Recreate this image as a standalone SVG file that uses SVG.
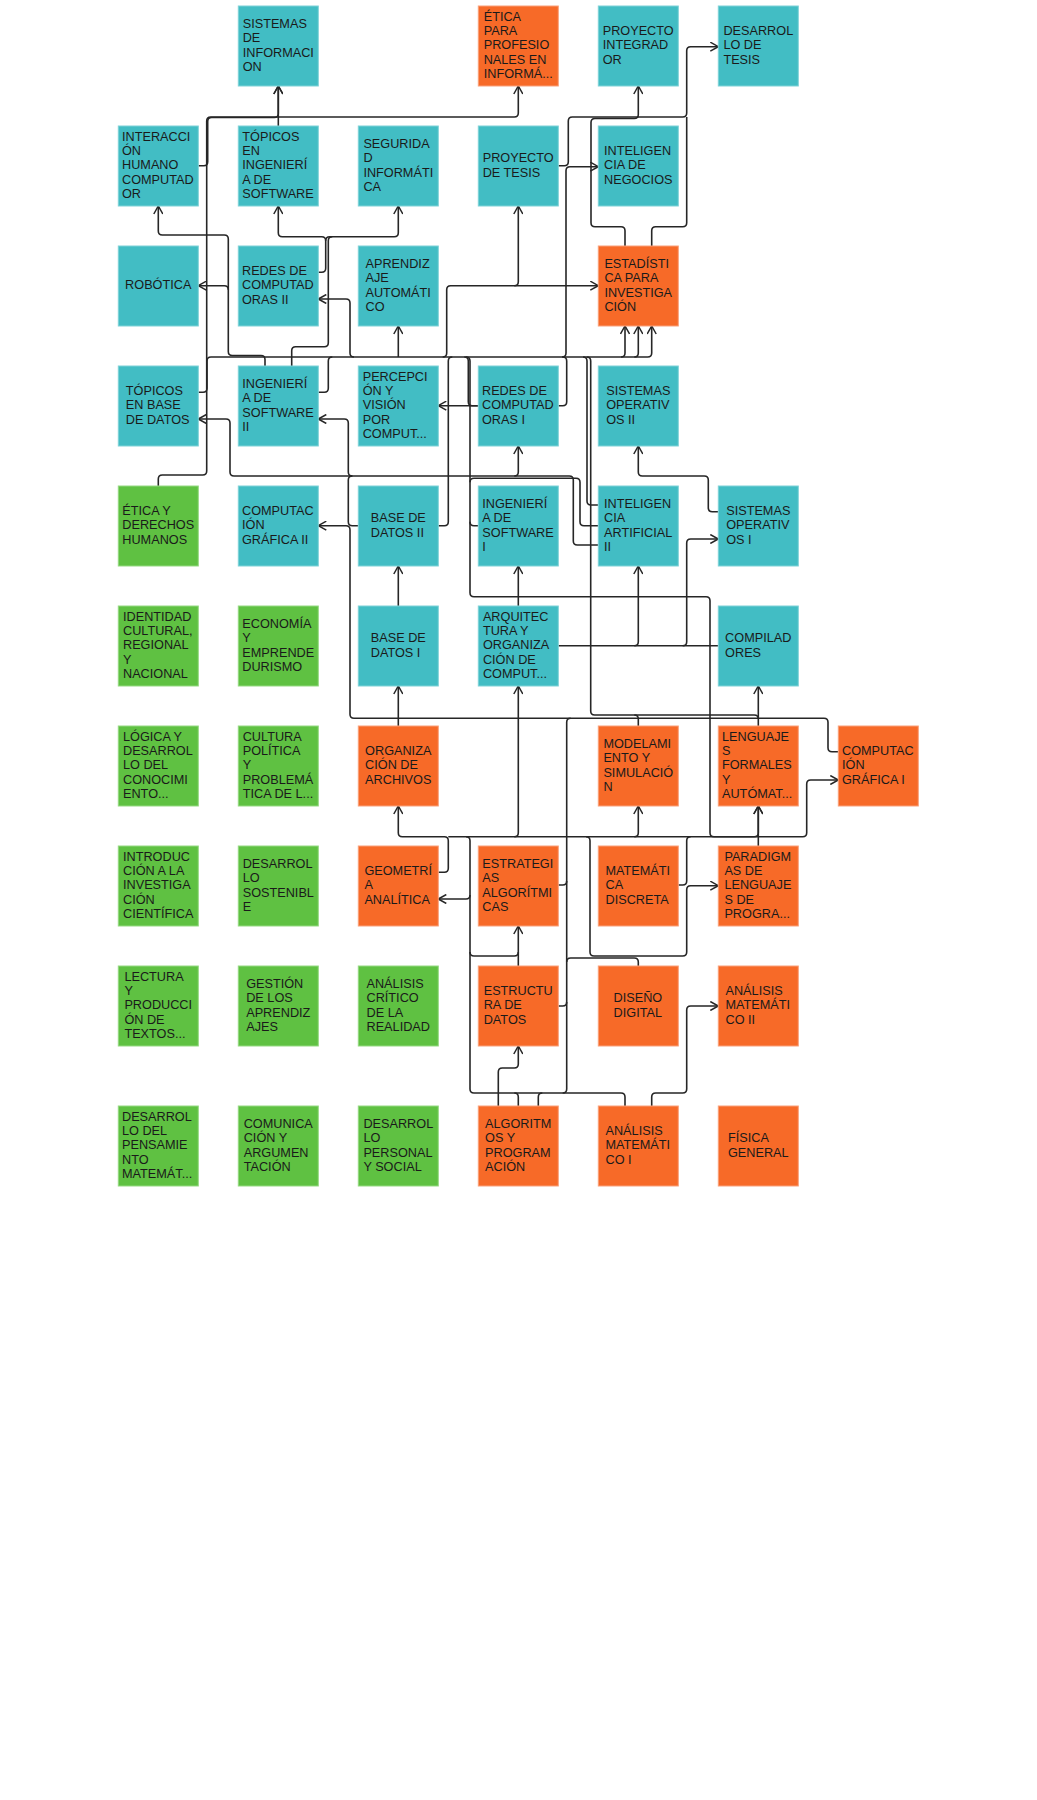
<svg xmlns="http://www.w3.org/2000/svg" width="1037" height="1800" viewBox="0 0 1037 1800">
  <defs>
    <style>
      .teal { fill: #42BDC4; stroke: #7FD2D7; stroke-width: 1; }
      .orange { fill: #F76A28; stroke: #F9A07A; stroke-width: 1; }
      .green { fill: #5FC142; stroke: #95D981; stroke-width: 1; }
      text { font-family: "Liberation Sans", Arial, sans-serif; font-size: 12.7px; fill: #1a1a1a; }
      .edge { fill: none; stroke: #262626; stroke-width: 1.6; stroke-linejoin: round; }
      .arr { marker-end: url(#ah); }
    </style>
    <marker id="ah" viewBox="0 0 10 10" refX="9" refY="5" markerWidth="10" markerHeight="10" markerUnits="userSpaceOnUse" orient="auto">
      <path d="M1,0.5 L9,5 L1,9.5" fill="none" stroke="#262626" stroke-width="1.5"/>
    </marker>
  </defs>
  <rect width="1037" height="1800" fill="#ffffff"/>

  <g id="connectors">
    <!-- upper routes -->
    <path class="edge arr" d="M158.3,486 V479 Q158.3,475 162.3,475 H202.7 Q206.7,475 206.7,471 V121 Q206.7,117 210.7,117 H514.3 Q518.3,117 518.3,113 V86"/>
    <path class="edge arr" d="M198.3,165.7 H203.7 Q207.7,165.7 207.7,161.7 V121.5 Q207.7,117.5 211.7,117.5 H274.3 Q278.3,117.5 278.3,113.5 V86"/>
    <path class="edge arr" d="M278.3,126 V86"/>
    <path class="edge arr" d="M558.3,165.7 H564.3 Q568.3,165.7 568.3,161.7 V121 Q568.3,117 572.3,117 H682.7 Q686.7,117 686.7,113 V50.7 Q686.7,46.7 690.7,46.7 H718.3"/>
    <path class="edge arr" d="M625,246 V230.7 Q625,226.7 621,226.7 H595 Q591,226.7 591,222.7 V122.5 Q591,118.5 595,118.5 H634.3 Q638.3,118.5 638.3,114.5 V86"/>
    <path class="edge" d="M651.7,246 V230.7 Q651.7,226.7 655.7,226.7 H682.7 Q686.7,226.7 686.7,222.7 V117"/>
    <path class="edge arr" d="M562,357 Q566,357 566,353 V170.7 Q566,166.7 570,166.7 H598.3"/>
    <path class="edge arr" d="M442.7,357 Q446.7,357 446.7,353 V289.7 Q446.7,285.7 450.7,285.7 H598.3"/>
    <path class="edge arr" d="M514.3,285.7 Q518.3,285.7 518.3,281.7 V206"/>
    <path class="edge arr" d="M265,366 V359.5 Q265,355.5 261,355.5 H232.3 Q228.3,355.5 228.3,351.5 V239 Q228.3,235 224.3,235 H162.3 Q158.3,235 158.3,231 V206"/>
    <path class="edge arr" d="M228.3,289.7 Q228.3,285.7 224.3,285.7 H198.3"/>
    <path class="edge arr" d="M318.3,272.3 H321.7 Q325.7,272.3 325.7,268.3 V240.7 Q325.7,236.7 321.7,236.7 H282.3 Q278.3,236.7 278.3,232.7 V206"/>
    <path class="edge arr" d="M325.7,240.7 Q325.7,236.7 329.7,236.7 H394.3 Q398.3,236.7 398.3,232.7 V206"/>
    <path class="edge" d="M291.7,366 V350.7 Q291.7,346.7 295.7,346.7 H324.3 Q328.3,346.7 328.3,342.7 V240.7 Q328.3,236.7 332.3,236.7"/>
    <path class="edge arr" d="M354,357 Q350,357 350,353 V303 Q350,299 346,299 H318.3"/>
    <path class="edge arr" d="M398.3,357 V326"/>
    <path class="edge arr" d="M198.3,392.3 H203 Q207,392.3 207,388.3 V361 Q207,357 211,357 H647.7 Q651.7,357 651.7,353 V326"/>
    <path class="edge arr" d="M621,357 Q625,357 625,353 V326"/>
    <path class="edge arr" d="M634.3,357 Q638.3,357 638.3,353 V326"/>
    <path class="edge" d="M318.3,392.3 H324.3 Q328.3,392.3 328.3,388.3 V361 Q328.3,357 332.3,357"/>
    <path class="edge" d="M558.3,405.7 H562.7 Q566.7,405.7 566.7,401.7 V361 Q566.7,357 562.7,357"/>
    <path class="edge arr" d="M478.3,405.7 H438.3"/>
    <path class="edge" d="M478.3,405.7 H472.3 Q468.3,405.7 468.3,401.7 V361 Q468.3,357 464.3,357"/>

    <!-- middle routes -->
    <path class="edge arr" d="M598.3,545 H577.3 Q573.3,545 573.3,541 V480 Q573.3,476 569.3,476 H234 Q230,476 230,472 V423 Q230,419 226,419 H198.3"/>
    <path class="edge arr" d="M352.3,476 Q348.3,476 348.3,472 V423 Q348.3,419 344.3,419 H318.3"/>
    <path class="edge" d="M358.3,525.7 H352.3 Q348.3,525.7 348.3,521.7 V480 Q348.3,476 352.3,476"/>
    <path class="edge arr" d="M838.3,751.7 H832 Q828,751.7 828,747.7 V722.3 Q828,718.3 824,718.3 H354 Q350,718.3 350,714.3 V529.7 Q350,525.7 346,525.7 H318.3"/>
    <path class="edge" d="M438.3,525.7 H444.3 Q448.3,525.7 448.3,521.7 V361 Q448.3,357 452.3,357"/>
    <path class="edge arr" d="M514.3,476 Q518.3,476 518.3,472 V446"/>
    <path class="edge arr" d="M466,357 Q470,357 470,361 V592.7 Q470,596.7 474,596.7 H706 Q710,596.7 710,600.7 V832.7 Q710,836.7 714,836.7 H754.3 Q758.3,836.7 758.3,832.7 V806"/>
    <path class="edge" d="M478.3,525.7 H474 Q470,525.7 470,521.7"/>
    <path class="edge" d="M598.3,525.7 H584 Q580,525.7 580,521.7 V482.3 Q580,478.3 576,478.3 H474 Q470,478.3 470,482.3"/>
    <path class="edge" d="M598.3,505 H591 Q587,505 587,501 V361 Q587,357 583,357"/>
    <path class="edge" d="M586.7,357 Q590.7,357 590.7,361 V711 Q590.7,715 594.7,715 H754.3 Q758.3,715 758.3,719"/>
    <path class="edge" d="M634.3,715 Q638.3,715 638.3,719 V726"/>
    <path class="edge arr" d="M758.3,726 V686"/>
    <path class="edge arr" d="M718.3,511.7 H712.3 Q708.3,511.7 708.3,507.7 V480 Q708.3,476 704.3,476 H642.3 Q638.3,476 638.3,472 V446"/>
    <path class="edge" d="M558.3,645.7 H718.3"/>
    <path class="edge arr" d="M634.3,645.7 Q638.3,645.7 638.3,641.7 V566"/>
    <path class="edge arr" d="M682.7,645.7 Q686.7,645.7 686.7,641.7 V543 Q686.7,539 690.7,539 H718.3"/>
    <path class="edge arr" d="M518.3,606 V566"/>
    <path class="edge arr" d="M398.3,606 V566"/>
    <path class="edge arr" d="M398.3,726 V686"/>

    <!-- lower routes -->
    <path class="edge arr" d="M438.3,872.3 H444.3 Q448.3,872.3 448.3,868.3 V840.7 Q448.3,836.7 444.3,836.7 H402.3 Q398.3,836.7 398.3,832.7 V806"/>
    <path class="edge arr" d="M448.3,836.7 H802.7 Q806.7,836.7 806.7,832.7 V784 Q806.7,780 810.7,780 H838.3"/>
    <path class="edge arr" d="M514.3,836.7 Q518.3,836.7 518.3,832.7 V686"/>
    <path class="edge arr" d="M634.3,836.7 Q638.3,836.7 638.3,832.7 V806"/>
    <path class="edge" d="M678.3,885 H682.7 Q686.7,885 686.7,881 V840.7 Q686.7,836.7 690.7,836.7"/>
    <path class="edge arr" d="M586,836.7 Q590,836.7 590,840.7 V952 Q590,956 594,956 H682.7 Q686.7,956 686.7,952 V889.7 Q686.7,885.7 690.7,885.7 H718.3"/>
    <path class="edge arr" d="M758.3,846 V806"/>
    <path class="edge" d="M466,836.7 Q470,836.7 470,840.7 V1089 Q470,1093 474,1093 H621 Q625,1093 625,1097 V1106"/>
    <path class="edge arr" d="M470,895 Q470,899 466,899 H438.3"/>
    <path class="edge" d="M470,952 Q470,956 474,956 H514.3 Q518.3,956 518.3,952"/>
    <path class="edge arr" d="M518.3,966 V926"/>
    <path class="edge" d="M570.7,718.3 Q566.7,718.3 566.7,722.3 V1089 Q566.7,1093 562.7,1093"/>
    <path class="edge" d="M558.3,885 H562.7 Q566.7,885 566.7,881"/>
    <path class="edge" d="M558.3,1006 H562.7 Q566.7,1006 566.7,1002"/>
    <path class="edge" d="M638.3,966 V962 Q638.3,958 634.3,958 H570.7 Q566.7,958 566.7,962"/>
    <path class="edge arr" d="M498.3,1106 V1072 Q498.3,1068 502.3,1068 H514.3 Q518.3,1068 518.3,1064 V1046"/>
    <path class="edge" d="M518.3,1106 V1097 Q518.3,1093 514.3,1093"/>
    <path class="edge" d="M538.3,1106 V1097 Q538.3,1093 542.3,1093"/>
    <path class="edge arr" d="M651.7,1106 V1097 Q651.7,1093 655.7,1093 H682.7 Q686.7,1093 686.7,1089 V1010 Q686.7,1006 690.7,1006 H718.3"/>
  </g>

  <!-- row 1 -->
  <g id="n-sistemas-informacion"><rect class="teal" x="238.3" y="6" width="80" height="80"/>
    <text x="242.7" y="27.95"><tspan>SISTEMAS</tspan><tspan x="242.7" dy="14.3">DE</tspan><tspan x="242.7" dy="14.3">INFORMACI</tspan><tspan x="242.7" dy="14.3">ON</tspan></text></g>
  <g id="n-etica-profesionales"><rect class="orange" x="478.3" y="6" width="80" height="80"/>
    <text x="483.7" y="20.8"><tspan>ÉTICA</tspan><tspan x="483.7" dy="14.3">PARA</tspan><tspan x="483.7" dy="14.3">PROFESIO</tspan><tspan x="483.7" dy="14.3">NALES EN</tspan><tspan x="483.7" dy="14.3">INFORMÁ...</tspan></text></g>
  <g id="n-proyecto-integrador"><rect class="teal" x="598.3" y="6" width="80" height="80"/>
    <text x="602.7" y="35.1"><tspan>PROYECTO</tspan><tspan x="602.7" dy="14.3">INTEGRAD</tspan><tspan x="602.7" dy="14.3">OR</tspan></text></g>
  <g id="n-desarrollo-tesis"><rect class="teal" x="718.3" y="6" width="80" height="80"/>
    <text x="723.4" y="35.1"><tspan>DESARROL</tspan><tspan x="723.4" dy="14.3">LO DE</tspan><tspan x="723.4" dy="14.3">TESIS</tspan></text></g>

  <!-- row 2 -->
  <g id="n-interaccion-hc"><rect class="teal" x="118.3" y="126" width="80" height="80"/>
    <text x="122" y="140.8"><tspan>INTERACCI</tspan><tspan x="122" dy="14.3">ÓN</tspan><tspan x="122" dy="14.3">HUMANO</tspan><tspan x="122" dy="14.3">COMPUTAD</tspan><tspan x="122" dy="14.3">OR</tspan></text></g>
  <g id="n-topicos-ing-software"><rect class="teal" x="238.3" y="126" width="80" height="80"/>
    <text x="242.3" y="140.8"><tspan>TÓPICOS</tspan><tspan x="242.3" dy="14.3">EN</tspan><tspan x="242.3" dy="14.3">INGENIERÍ</tspan><tspan x="242.3" dy="14.3">A DE</tspan><tspan x="242.3" dy="14.3">SOFTWARE</tspan></text></g>
  <g id="n-seguridad-informatica"><rect class="teal" x="358.3" y="126" width="80" height="80"/>
    <text x="363.4" y="147.95"><tspan>SEGURIDA</tspan><tspan x="363.4" dy="14.3">D</tspan><tspan x="363.4" dy="14.3">INFORMÁTI</tspan><tspan x="363.4" dy="14.3">CA</tspan></text></g>
  <g id="n-proyecto-tesis"><rect class="teal" x="478.3" y="126" width="80" height="80"/>
    <text x="482.7" y="162.25"><tspan>PROYECTO</tspan><tspan x="482.7" dy="14.3">DE TESIS</tspan></text></g>
  <g id="n-inteligencia-negocios"><rect class="teal" x="598.3" y="126" width="80" height="80"/>
    <text x="604.1" y="155.1"><tspan>INTELIGEN</tspan><tspan x="604.1" dy="14.3">CIA DE</tspan><tspan x="604.1" dy="14.3">NEGOCIOS</tspan></text></g>

  <!-- row 3 -->
  <g id="n-robotica"><rect class="teal" x="118.3" y="246" width="80" height="80"/>
    <text x="125.1" y="289.4">ROBÓTICA</text></g>
  <g id="n-redes-2"><rect class="teal" x="238.3" y="246" width="80" height="80"/>
    <text x="242" y="275.1"><tspan>REDES DE</tspan><tspan x="242" dy="14.3">COMPUTAD</tspan><tspan x="242" dy="14.3">ORAS II</tspan></text></g>
  <g id="n-aprendizaje-automatico"><rect class="teal" x="358.3" y="246" width="80" height="80"/>
    <text x="365.5" y="267.95"><tspan>APRENDIZ</tspan><tspan x="365.5" dy="14.3">AJE</tspan><tspan x="365.5" dy="14.3">AUTOMÁTI</tspan><tspan x="365.5" dy="14.3">CO</tspan></text></g>
  <g id="n-estadistica"><rect class="orange" x="598.3" y="246" width="80" height="80"/>
    <text x="604.4" y="267.95"><tspan>ESTADÍSTI</tspan><tspan x="604.4" dy="14.3">CA PARA</tspan><tspan x="604.4" dy="14.3">INVESTIGA</tspan><tspan x="604.4" dy="14.3">CIÓN</tspan></text></g>

  <!-- row 4 -->
  <g id="n-topicos-bd"><rect class="teal" x="118.3" y="366" width="80" height="80"/>
    <text x="125.8" y="395.1"><tspan>TÓPICOS</tspan><tspan x="125.8" dy="14.3">EN BASE</tspan><tspan x="125.8" dy="14.3">DE DATOS</tspan></text></g>
  <g id="n-ing-software-2"><rect class="teal" x="238.3" y="366" width="80" height="80"/>
    <text x="242.3" y="387.95"><tspan>INGENIERÍ</tspan><tspan x="242.3" dy="14.3">A DE</tspan><tspan x="242.3" dy="14.3">SOFTWARE</tspan><tspan x="242.3" dy="14.3">II</tspan></text></g>
  <g id="n-percepcion-vision"><rect class="teal" x="358.3" y="366" width="80" height="80"/>
    <text x="362.7" y="380.8"><tspan>PERCEPCI</tspan><tspan x="362.7" dy="14.3">ÓN Y</tspan><tspan x="362.7" dy="14.3">VISIÓN</tspan><tspan x="362.7" dy="14.3">POR</tspan><tspan x="362.7" dy="14.3">COMPUT...</tspan></text></g>
  <g id="n-redes-1"><rect class="teal" x="478.3" y="366" width="80" height="80"/>
    <text x="482" y="395.1"><tspan>REDES DE</tspan><tspan x="482" dy="14.3">COMPUTAD</tspan><tspan x="482" dy="14.3">ORAS I</tspan></text></g>
  <g id="n-so-2"><rect class="teal" x="598.3" y="366" width="80" height="80"/>
    <text x="606.2" y="395.1"><tspan>SISTEMAS</tspan><tspan x="606.2" dy="14.3">OPERATIV</tspan><tspan x="606.2" dy="14.3">OS II</tspan></text></g>

  <!-- row 5 -->
  <g id="n-etica-ddhh"><rect class="green" x="118.3" y="486" width="80" height="80"/>
    <text x="122.3" y="515.1"><tspan>ÉTICA Y</tspan><tspan x="122.3" dy="14.3">DERECHOS</tspan><tspan x="122.3" dy="14.3">HUMANOS</tspan></text></g>
  <g id="n-cg-2"><rect class="teal" x="238.3" y="486" width="80" height="80"/>
    <text x="242" y="515.1"><tspan>COMPUTAC</tspan><tspan x="242" dy="14.3">IÓN</tspan><tspan x="242" dy="14.3">GRÁFICA II</tspan></text></g>
  <g id="n-bd-2"><rect class="teal" x="358.3" y="486" width="80" height="80"/>
    <text x="370.8" y="522.25"><tspan>BASE DE</tspan><tspan x="370.8" dy="14.3">DATOS II</tspan></text></g>
  <g id="n-ing-software-1"><rect class="teal" x="478.3" y="486" width="80" height="80"/>
    <text x="482.3" y="507.95"><tspan>INGENIERÍ</tspan><tspan x="482.3" dy="14.3">A DE</tspan><tspan x="482.3" dy="14.3">SOFTWARE</tspan><tspan x="482.3" dy="14.3">I</tspan></text></g>
  <g id="n-ia-2"><rect class="teal" x="598.3" y="486" width="80" height="80"/>
    <text x="604.1" y="507.95"><tspan>INTELIGEN</tspan><tspan x="604.1" dy="14.3">CIA</tspan><tspan x="604.1" dy="14.3">ARTIFICIAL</tspan><tspan x="604.1" dy="14.3">II</tspan></text></g>
  <g id="n-so-1"><rect class="teal" x="718.3" y="486" width="80" height="80"/>
    <text x="726.2" y="515.1"><tspan>SISTEMAS</tspan><tspan x="726.2" dy="14.3">OPERATIV</tspan><tspan x="726.2" dy="14.3">OS I</tspan></text></g>

  <!-- row 6 -->
  <g id="n-identidad-cultural"><rect class="green" x="118.3" y="606" width="80" height="80"/>
    <text x="123" y="620.8"><tspan>IDENTIDAD</tspan><tspan x="123" dy="14.3">CULTURAL,</tspan><tspan x="123" dy="14.3">REGIONAL</tspan><tspan x="123" dy="14.3">Y</tspan><tspan x="123" dy="14.3">NACIONAL</tspan></text></g>
  <g id="n-economia"><rect class="green" x="238.3" y="606" width="80" height="80"/>
    <text x="242.3" y="627.95"><tspan>ECONOMÍA</tspan><tspan x="242.3" dy="14.3">Y</tspan><tspan x="242.3" dy="14.3">EMPRENDE</tspan><tspan x="242.3" dy="14.3">DURISMO</tspan></text></g>
  <g id="n-bd-1"><rect class="teal" x="358.3" y="606" width="80" height="80"/>
    <text x="370.8" y="642.25"><tspan>BASE DE</tspan><tspan x="370.8" dy="14.3">DATOS I</tspan></text></g>
  <g id="n-arquitectura"><rect class="teal" x="478.3" y="606" width="80" height="80"/>
    <text x="482.9" y="620.8"><tspan>ARQUITEC</tspan><tspan x="482.9" dy="14.3">TURA Y</tspan><tspan x="482.9" dy="14.3">ORGANIZA</tspan><tspan x="482.9" dy="14.3">CIÓN DE</tspan><tspan x="482.9" dy="14.3">COMPUT...</tspan></text></g>
  <g id="n-compiladores"><rect class="teal" x="718.3" y="606" width="80" height="80"/>
    <text x="725.1" y="642.25"><tspan>COMPILAD</tspan><tspan x="725.1" dy="14.3">ORES</tspan></text></g>

  <!-- row 7 -->
  <g id="n-logica"><rect class="green" x="118.3" y="726" width="80" height="80"/>
    <text x="123" y="740.8"><tspan>LÓGICA Y</tspan><tspan x="123" dy="14.3">DESARROL</tspan><tspan x="123" dy="14.3">LO DEL</tspan><tspan x="123" dy="14.3">CONOCIMI</tspan><tspan x="123" dy="14.3">ENTO...</tspan></text></g>
  <g id="n-cultura-politica"><rect class="green" x="238.3" y="726" width="80" height="80"/>
    <text x="242.7" y="740.8"><tspan>CULTURA</tspan><tspan x="242.7" dy="14.3">POLÍTICA</tspan><tspan x="242.7" dy="14.3">Y</tspan><tspan x="242.7" dy="14.3">PROBLEMÁ</tspan><tspan x="242.7" dy="14.3">TICA DE L...</tspan></text></g>
  <g id="n-org-archivos"><rect class="orange" x="358.3" y="726" width="80" height="80"/>
    <text x="365.1" y="755.1"><tspan>ORGANIZA</tspan><tspan x="365.1" dy="14.3">CIÓN DE</tspan><tspan x="365.1" dy="14.3">ARCHIVOS</tspan></text></g>
  <g id="n-modelamiento"><rect class="orange" x="598.3" y="726" width="80" height="80"/>
    <text x="603.4" y="747.95"><tspan>MODELAMI</tspan><tspan x="603.4" dy="14.3">ENTO Y</tspan><tspan x="603.4" dy="14.3">SIMULACIÓ</tspan><tspan x="603.4" dy="14.3">N</tspan></text></g>
  <g id="n-lenguajes-formales"><rect class="orange" x="718.3" y="726" width="80" height="80"/>
    <text x="722" y="740.8"><tspan>LENGUAJE</tspan><tspan x="722" dy="14.3">S</tspan><tspan x="722" dy="14.3">FORMALES</tspan><tspan x="722" dy="14.3">Y</tspan><tspan x="722" dy="14.3">AUTÓMAT...</tspan></text></g>
  <g id="n-cg-1"><rect class="orange" x="838.3" y="726" width="80" height="80"/>
    <text x="842" y="755.1"><tspan>COMPUTAC</tspan><tspan x="842" dy="14.3">IÓN</tspan><tspan x="842" dy="14.3">GRÁFICA I</tspan></text></g>

  <!-- row 8 -->
  <g id="n-intro-investigacion"><rect class="green" x="118.3" y="846" width="80" height="80"/>
    <text x="123" y="860.8"><tspan>INTRODUC</tspan><tspan x="123" dy="14.3">CIÓN A LA</tspan><tspan x="123" dy="14.3">INVESTIGA</tspan><tspan x="123" dy="14.3">CIÓN</tspan><tspan x="123" dy="14.3">CIENTÍFICA</tspan></text></g>
  <g id="n-desarrollo-sostenible"><rect class="green" x="238.3" y="846" width="80" height="80"/>
    <text x="242.7" y="867.95"><tspan>DESARROL</tspan><tspan x="242.7" dy="14.3">LO</tspan><tspan x="242.7" dy="14.3">SOSTENIBL</tspan><tspan x="242.7" dy="14.3">E</tspan></text></g>
  <g id="n-geometria"><rect class="orange" x="358.3" y="846" width="80" height="80"/>
    <text x="364.4" y="875.1"><tspan>GEOMETRÍ</tspan><tspan x="364.4" dy="14.3">A</tspan><tspan x="364.4" dy="14.3">ANALÍTICA</tspan></text></g>
  <g id="n-estrategias"><rect class="orange" x="478.3" y="846" width="80" height="80"/>
    <text x="482.3" y="867.95"><tspan>ESTRATEGI</tspan><tspan x="482.3" dy="14.3">AS</tspan><tspan x="482.3" dy="14.3">ALGORÍTMI</tspan><tspan x="482.3" dy="14.3">CAS</tspan></text></g>
  <g id="n-mat-discreta"><rect class="orange" x="598.3" y="846" width="80" height="80"/>
    <text x="605.5" y="875.1"><tspan>MATEMÁTI</tspan><tspan x="605.5" dy="14.3">CA</tspan><tspan x="605.5" dy="14.3">DISCRETA</tspan></text></g>
  <g id="n-paradigmas"><rect class="orange" x="718.3" y="846" width="80" height="80"/>
    <text x="724.4" y="860.8"><tspan>PARADIGM</tspan><tspan x="724.4" dy="14.3">AS DE</tspan><tspan x="724.4" dy="14.3">LENGUAJE</tspan><tspan x="724.4" dy="14.3">S DE</tspan><tspan x="724.4" dy="14.3">PROGRA...</tspan></text></g>

  <!-- row 9 -->
  <g id="n-lectura"><rect class="green" x="118.3" y="966" width="80" height="80"/>
    <text x="124.4" y="980.8"><tspan>LECTURA</tspan><tspan x="124.4" dy="14.3">Y</tspan><tspan x="124.4" dy="14.3">PRODUCCI</tspan><tspan x="124.4" dy="14.3">ÓN DE</tspan><tspan x="124.4" dy="14.3">TEXTOS...</tspan></text></g>
  <g id="n-gestion-aprendizajes"><rect class="green" x="238.3" y="966" width="80" height="80"/>
    <text x="246.2" y="987.95"><tspan>GESTIÓN</tspan><tspan x="246.2" dy="14.3">DE LOS</tspan><tspan x="246.2" dy="14.3">APRENDIZ</tspan><tspan x="246.2" dy="14.3">AJES</tspan></text></g>
  <g id="n-analisis-critico"><rect class="green" x="358.3" y="966" width="80" height="80"/>
    <text x="366.5" y="987.95"><tspan>ANÁLISIS</tspan><tspan x="366.5" dy="14.3">CRÍTICO</tspan><tspan x="366.5" dy="14.3">DE LA</tspan><tspan x="366.5" dy="14.3">REALIDAD</tspan></text></g>
  <g id="n-estructura-datos"><rect class="orange" x="478.3" y="966" width="80" height="80"/>
    <text x="483.7" y="995.1"><tspan>ESTRUCTU</tspan><tspan x="483.7" dy="14.3">RA DE</tspan><tspan x="483.7" dy="14.3">DATOS</tspan></text></g>
  <g id="n-diseno-digital"><rect class="orange" x="598.3" y="966" width="80" height="80"/>
    <text x="613.6" y="1002.25"><tspan>DISEÑO</tspan><tspan x="613.6" dy="14.3">DIGITAL</tspan></text></g>
  <g id="n-analisis-mat-2"><rect class="orange" x="718.3" y="966" width="80" height="80"/>
    <text x="725.5" y="995.1"><tspan>ANÁLISIS</tspan><tspan x="725.5" dy="14.3">MATEMÁTI</tspan><tspan x="725.5" dy="14.3">CO II</tspan></text></g>

  <!-- row 10 -->
  <g id="n-pensamiento-mat"><rect class="green" x="118.3" y="1106" width="80" height="80"/>
    <text x="122" y="1120.8"><tspan>DESARROL</tspan><tspan x="122" dy="14.3">LO DEL</tspan><tspan x="122" dy="14.3">PENSAMIE</tspan><tspan x="122" dy="14.3">NTO</tspan><tspan x="122" dy="14.3">MATEMÁT...</tspan></text></g>
  <g id="n-comunicacion"><rect class="green" x="238.3" y="1106" width="80" height="80"/>
    <text x="243.7" y="1127.95"><tspan>COMUNICA</tspan><tspan x="243.7" dy="14.3">CIÓN Y</tspan><tspan x="243.7" dy="14.3">ARGUMEN</tspan><tspan x="243.7" dy="14.3">TACIÓN</tspan></text></g>
  <g id="n-desarrollo-personal"><rect class="green" x="358.3" y="1106" width="80" height="80"/>
    <text x="363.4" y="1127.95"><tspan>DESARROL</tspan><tspan x="363.4" dy="14.3">LO</tspan><tspan x="363.4" dy="14.3">PERSONAL</tspan><tspan x="363.4" dy="14.3">Y SOCIAL</tspan></text></g>
  <g id="n-algoritmos"><rect class="orange" x="478.3" y="1106" width="80" height="80"/>
    <text x="485.1" y="1127.95"><tspan>ALGORITM</tspan><tspan x="485.1" dy="14.3">OS Y</tspan><tspan x="485.1" dy="14.3">PROGRAM</tspan><tspan x="485.1" dy="14.3">ACIÓN</tspan></text></g>
  <g id="n-analisis-mat-1"><rect class="orange" x="598.3" y="1106" width="80" height="80"/>
    <text x="605.5" y="1135.1"><tspan>ANÁLISIS</tspan><tspan x="605.5" dy="14.3">MATEMÁTI</tspan><tspan x="605.5" dy="14.3">CO I</tspan></text></g>
  <g id="n-fisica-general"><rect class="orange" x="718.3" y="1106" width="80" height="80"/>
    <text x="728" y="1142.25"><tspan>FÍSICA</tspan><tspan x="728" dy="14.3">GENERAL</tspan></text></g>
</svg>
